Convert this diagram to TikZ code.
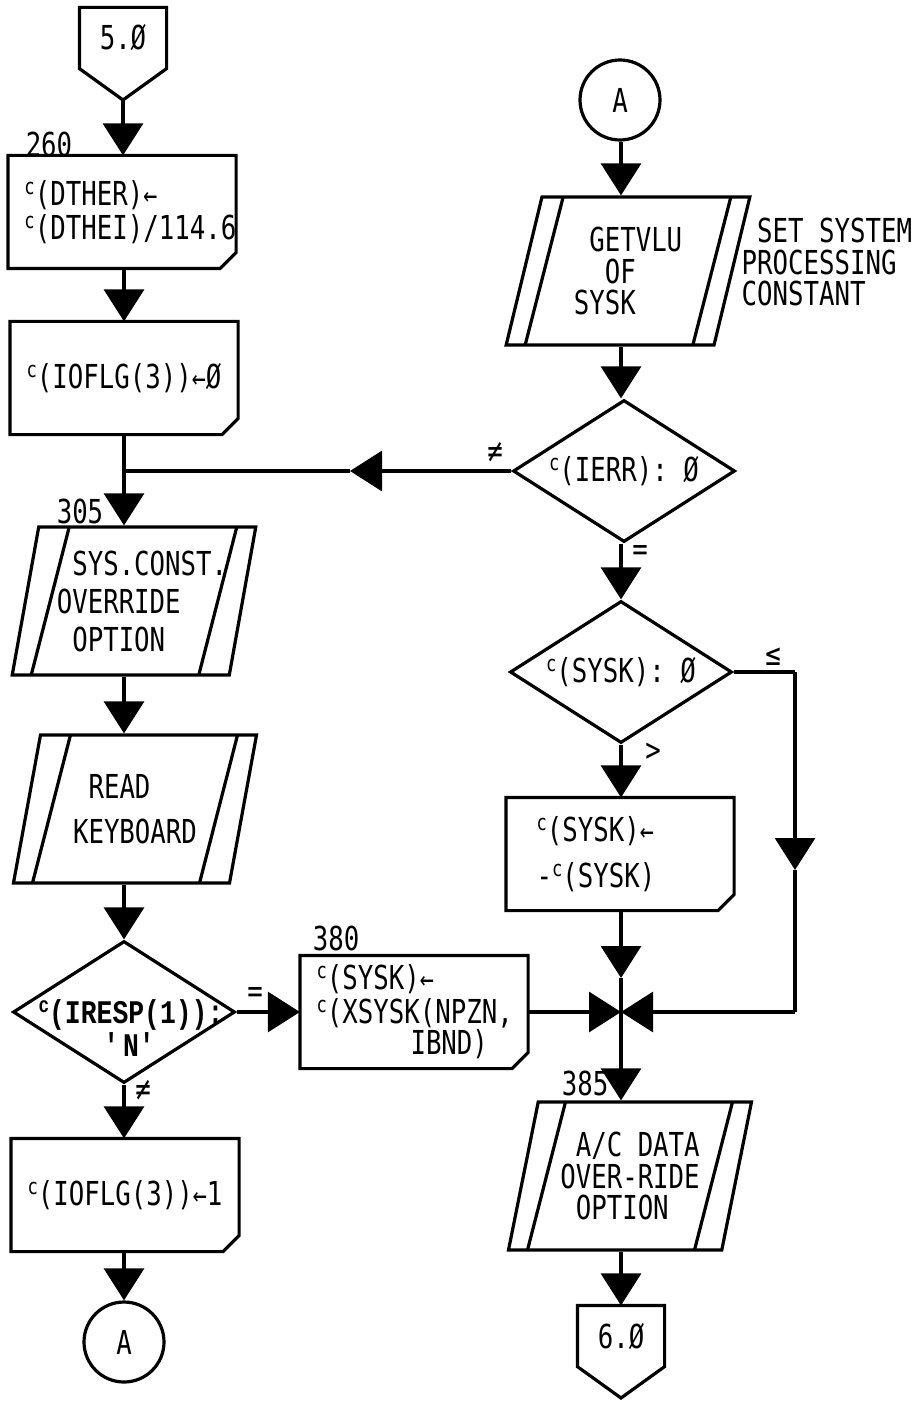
\documentclass[tikz,border=0pt]{standalone}
\usepackage{fontspec}
\usetikzlibrary{arrows.meta,shapes.geometric}
\newfontfamily\flowfont{DejaVu Sans Mono}[FakeStretch=0.78]
\newfontfamily\respfont{Liberation Mono}[FakeStretch=0.8]
\newcommand{\cc}{\raisebox{5.5pt}{\fontsize{11}{11}\selectfont c}}
\newcommand{\getsto}{{\fontsize{15}{14}\selectfont ←}}

\tikzset{
  flow/.style={-{Triangle[length=16pt,width=20pt]}},
  procbox/.style={rectangle, minimum height=55pt, text width=97.5pt,
    inner xsep=7.5pt, inner ysep=2pt, align=left,
    append after command={\pgfextra{\draw (\tikzlastnode.north west) -- (\tikzlastnode.north east)
      -- ([yshift=8pt]\tikzlastnode.south east) -- ([xshift=-8pt]\tikzlastnode.south east)
      -- (\tikzlastnode.south west) -- cycle;}}},
  iobox/.style={trapezium, trapezium left angle=75.6, trapezium right angle=104.4,
    trapezium stretches=true, draw, minimum width=122pt, minimum height=74pt,
    inner sep=0pt, align=left,
    path picture={
      \draw ([xshift=28.5pt]path picture bounding box.north west) -- ([xshift=9.5pt]path picture bounding box.south west);
      \draw ([xshift=-9.5pt]path picture bounding box.north east) -- ([xshift=-28.5pt]path picture bounding box.south east);
    }},
  decbox/.style={diamond, draw, aspect=1.6, minimum width=111pt, minimum height=71pt, inner sep=0pt, align=center},
  conn/.style={circle, draw, minimum size=40pt, inner sep=0pt},
  pentbox/.style={rectangle, minimum width=42pt, minimum height=29pt, inner sep=0pt},
  lbl/.style={inner sep=0pt},
  resp/.style={font=\respfont\bfseries\fontsize{16.5}{14.5}\selectfont, align=center},
}

\begin{document}
\begin{tikzpicture}[x=0.5pt, y=-0.5pt, line width=1.6pt,
  every node/.style={font=\flowfont\fontsize{16.5}{15.75}\selectfont}]

\useasboundingbox (0,0) rectangle (923,1401);

% column guides
\coordinate (colL) at (124,0);
\coordinate (colR) at (621,0);
\coordinate (loopX) at (795,0);

% LEFT COLUMN
\node[pentbox] (p5) at (123,38) {5.Ø};
\coordinate (p5tip) at (123,100);
\draw (p5.north west) -- (p5.north east) -- (p5.south east) -- (p5tip) -- (p5.south west) -- cycle;

\node[procbox] (b260) at (122,212) {\cc(DTHER)\getsto\\[1pt]\cc(DTHEI)/114.6};
\node[lbl] (l260) at (49,144) {260};

\node[procbox] (bIO0) at (124,378) {\cc(IOFLG(3))\getsto Ø};
\coordinate (jn) at (124,471);

\node[iobox] (io305) at (134,601) {\hspace*{8pt}~SYS.CONST.\\[3.5pt]\hspace*{8pt}OVERRIDE\\[3pt]\hspace*{8pt}~OPTION};
\node[lbl] (l305) at (80,511) {305};

\node[iobox] (ioRead) at (135,809) {~READ\\[6.5pt]KEYBOARD};

\node[decbox, label={[resp, xshift=3.5pt, yshift=-8pt]center:\cc(IRESP(1)):\\\textquotesingle N\textquotesingle}] (dResp) at (124,1012) {};
\node[lbl] (eqResp) at (255,995) {=};
\node[lbl] (neResp) at (143,1090) {≠};

\node[procbox] (bIO1) at (125,1195) {\cc(IOFLG(3))\getsto 1};
\node[conn] (cA1) at (124,1342) {A};

% RIGHT COLUMN
\node[conn] (cA2) at (620,100) {A};
\node[iobox] (ioGet) at (628,271) {~GETVLU\\~~OF\\SYSK};
\node[lbl, anchor=west, align=left] (nGet) at (740,262) {~SET SYSTEM\\PROCESSING\\CONSTANT};

\node[decbox] (dErr) at (624,471) {\cc(IERR): Ø};
\node[lbl] (neErr) at (495,452) {≠};
\node[lbl] (eqErr) at (640,553) {=};
\coordinate (errArr) at (350,471);

\node[decbox] (dSysk) at (621,672) {\cc(SYSK): Ø};
\node[lbl] (leSysk) at (773,657) {≤};
\node[lbl] (gtSysk) at (653,752) {>};

\node[procbox] (bNeg) at (620,854) {\hspace*{7pt}\cc(SYSK)\getsto\\[7pt]\hspace*{7pt}-\cc(SYSK)};
\coordinate (negArr) at (621,978);
\coordinate (mrg) at (621,1012);
\coordinate (loopB) at (795,870);
\coordinate (loopC) at (795,1012);

\node[procbox] (b380) at (414,1012) {\cc(SYSK)\getsto\\[1pt]\cc(XSYSK(NPZN,\\\hspace*{47pt}IBND)};
\node[lbl] (l380) at (336,938) {380};

\node[iobox] (io385) at (630,1176) {~A/C DATA\\OVER-RIDE\\~OPTION};
\node[lbl] (l385) at (585,1083) {385};

\node[pentbox] (p6) at (621,1336) {6.Ø};
\coordinate (p6tip) at (621,1398);
\draw (p6.north west) -- (p6.north east) -- (p6.south east) -- (p6tip) -- (p6.south west) -- cycle;

% CONNECTORS
\draw[flow] (p5tip) -- (p5tip |- b260.north);
\draw[flow] (b260.south -| colL) -- (bIO0.north -| colL);
\draw (bIO0.south -| colL) -- (jn);
\draw[flow] (jn) -- (jn |- io305.north);
\draw[flow] (dErr.west) -- (errArr);
\draw (errArr) -- (jn);
\draw[flow] (io305.south -| colL) -- (ioRead.north -| colL);
\draw[flow] (ioRead.south -| colL) -- (dResp.north);
\draw[flow] (dResp.east) -- (b380.west);
\draw[flow] (dResp.south) -- (bIO1.north -| colL);
\draw[flow] (bIO1.south -| colL) -- (cA1.north);

\draw[flow] (cA2.south -| colR) -- (ioGet.north -| colR);
\draw[flow] (ioGet.south -| colR) -- (dErr.north -| colR);
\draw[flow] (dErr.south -| colR) -- (dSysk.north);
\draw[flow] (dSysk.south) -- (bNeg.north -| colR);
\draw[flow] (bNeg.south -| colR) -- (negArr);
\draw (negArr) -- (mrg);
\draw (dSysk.east) -- (dSysk.east -| loopX);
\draw[flow] (dSysk.east -| loopX) -- (loopB);
\draw (loopB) -- (loopC);
\draw[flow] (loopC) -- (mrg);
\draw[flow] (b380.east) -- (mrg);
\draw[flow] (mrg) -- (mrg |- io385.north);
\draw[flow] (io385.south -| colR) -- (p6.north);

\end{tikzpicture}
\end{document}
